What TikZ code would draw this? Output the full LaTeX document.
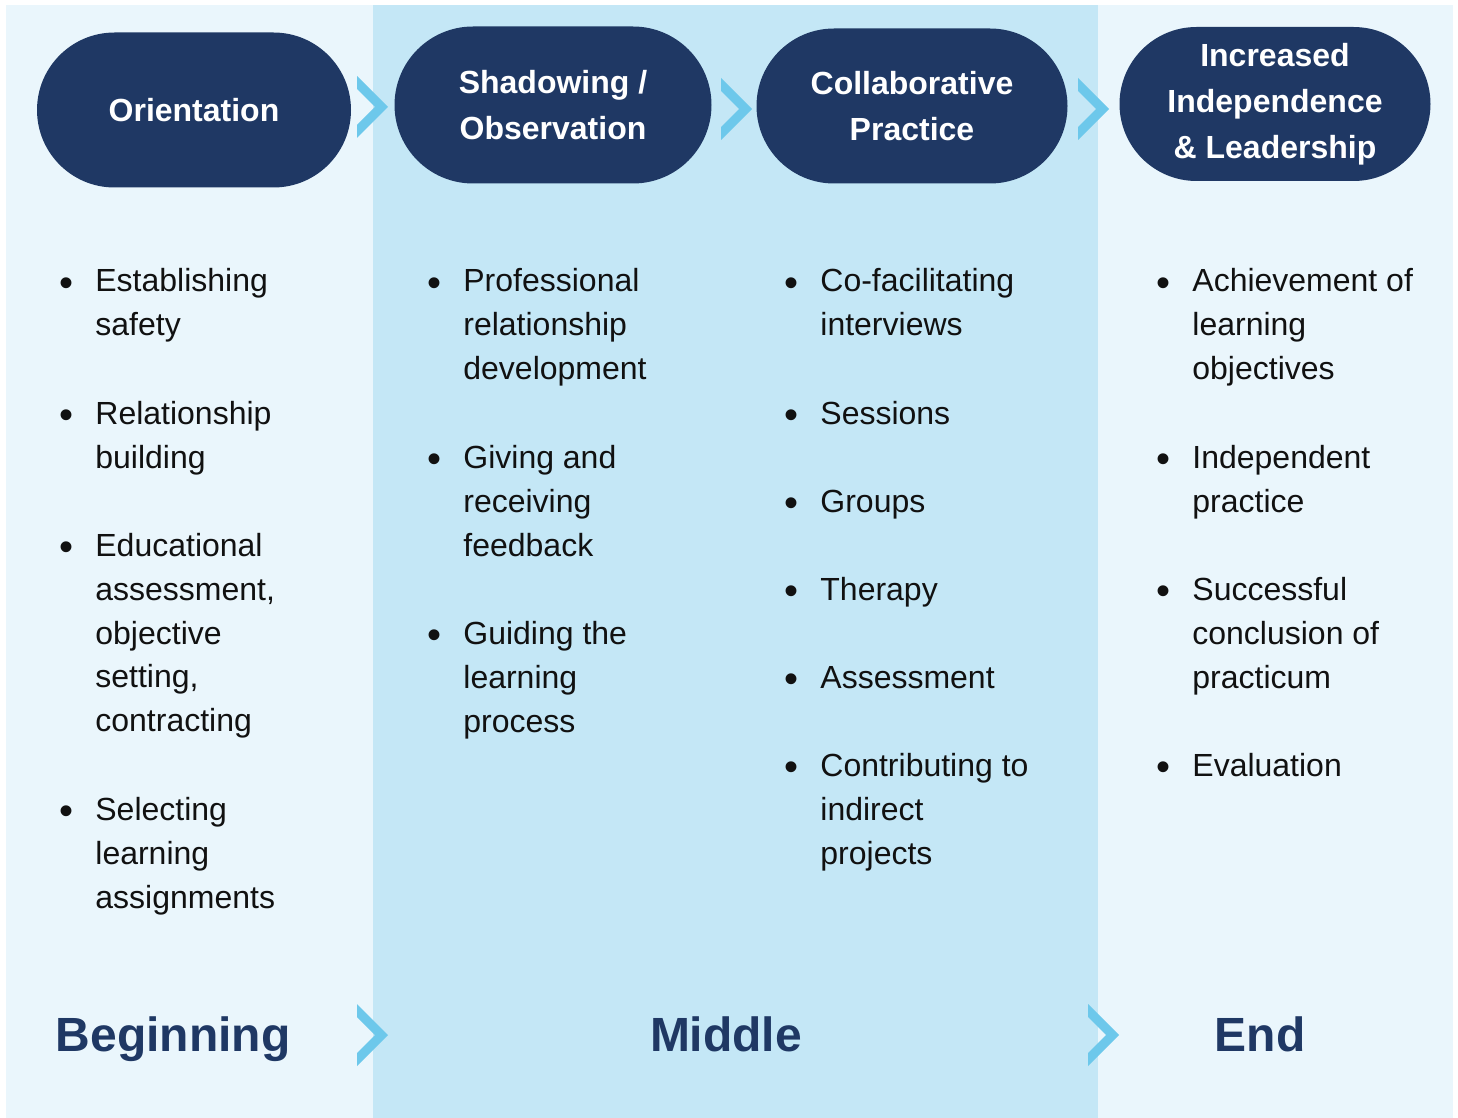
\documentclass[tikz,border=0pt]{standalone}
\usepackage{fontspec}
\setmainfont{Liberation Sans}
\usetikzlibrary{shapes.misc}
\definecolor{navy}{HTML}{1F3864}
\definecolor{pale}{HTML}{EAF6FC}
\definecolor{midblue}{HTML}{C4E7F6}
\definecolor{chev}{HTML}{6DC8EB}
\definecolor{ink}{HTML}{111111}
\newcommand\bitem[1]{\llap{\makebox[18pt][l]{\raisebox{-2.2pt}{\fontsize{20}{20}\selectfont •}}}\begin{tabular}[t]{@{}l@{}}#1\end{tabular}}
\tikzset{
  pill/.style={rounded rectangle, fill=navy, text=white, inner sep=0pt,
    font=\fontsize{16}{23}\selectfont\bfseries, align=center},
  itembox/.style={anchor=base west, inner sep=0pt, text=ink,
    font=\fontsize{16}{22}\selectfont},
  phase/.style={anchor=base, inner sep=0pt, text=navy,
    font=\fontsize{24}{28}\selectfont\bfseries},
  chevron/.pic={\fill[chev] (-31,-31) -- (0,0) -- (-31,31) -- (-31,18) -- (-13,0) -- (-31,-18) -- cycle;}
}
\begin{document}
\begin{tikzpicture}[x=0.5pt,y=-0.5pt]
\useasboundingbox (0,0) rectangle (1458,1118);
\fill[white] (0,0) rectangle (1458,1118);
\fill[pale] (6,5) rectangle (1453,1118);
\fill[midblue] (373,5) rectangle (1098,1118);

% stage pills
\node[pill, minimum width=157pt, minimum height=77.5pt] (p1) at (194,110) {Orientation};
\node[pill, minimum width=158.5pt, minimum height=78.5pt] (p2) at (553,105) {Shadowing /\\Observation};
\node[pill, minimum width=155.5pt, minimum height=77.5pt] (p3) at (912,106) {Collaborative\\Practice};
\node[pill, minimum width=155.5pt, minimum height=77pt] (p4) at (1275,104) {Increased\\Independence\\\& Leadership};

% chevrons
\pic at (388,107) {chevron};
\pic at (752,109) {chevron};
\pic at (1109,109) {chevron};
\pic at (388,1035) {chevron};
\pic at (1119,1035) {chevron};

% column 1
\node[itembox] (a1) at (95,292) {\bitem{Establishing\\safety}};
\node[itembox] (a2) at (95,424) {\bitem{Relationship\\building}};
\node[itembox] (a3) at (95,556) {\bitem{Educational\\assessment,\\objective\\setting,\\contracting}};
\node[itembox] (a4) at (95,820) {\bitem{Selecting\\learning\\assignments}};

% column 2
\node[itembox] (b1) at (463,292) {\bitem{Professional\\relationship\\development}};
\node[itembox] (b2) at (463,468) {\bitem{Giving and\\receiving\\feedback}};
\node[itembox] (b3) at (463,644) {\bitem{Guiding the\\learning\\process}};

% column 3
\node[itembox] (c1) at (820,292) {\bitem{Co-facilitating\\interviews}};
\node[itembox] (c2) at (820,424) {\bitem{Sessions}};
\node[itembox] (c3) at (820,512) {\bitem{Groups}};
\node[itembox] (c4) at (820,600) {\bitem{Therapy}};
\node[itembox] (c5) at (820,688) {\bitem{Assessment}};
\node[itembox] (c6) at (820,776) {\bitem{Contributing to\\indirect\\projects}};

% column 4
\node[itembox] (d1) at (1192,292) {\bitem{Achievement of\\learning\\objectives}};
\node[itembox] (d2) at (1192,468) {\bitem{Independent\\practice}};
\node[itembox] (d3) at (1192,600) {\bitem{Successful\\conclusion of\\practicum}};
\node[itembox] (d4) at (1192,776) {\bitem{Evaluation}};

% phases
\node[phase] (beg) at (173,1051) {Beginning};
\node[phase] (mid) at (726,1051) {Middle};
\node[phase] (end) at (1260,1051) {End};
\end{tikzpicture}
\end{document}
